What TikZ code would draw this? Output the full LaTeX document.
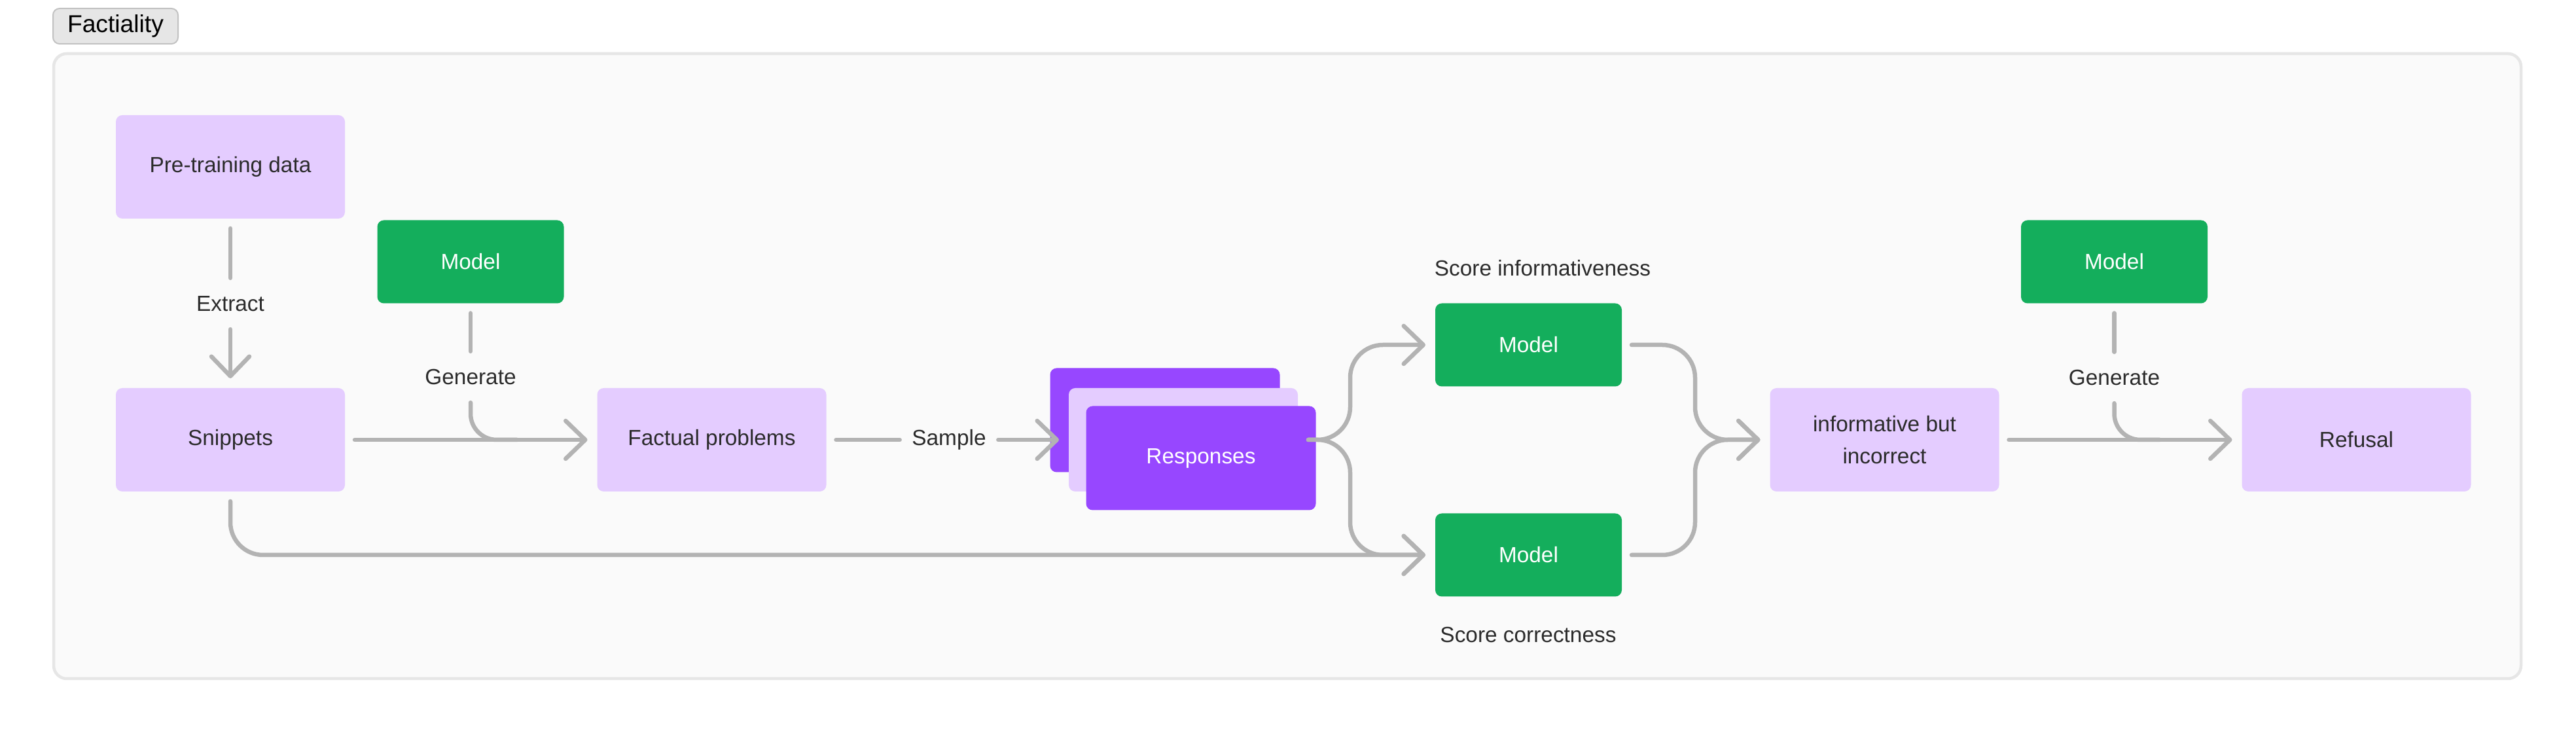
\documentclass[tikz,border=0pt]{standalone}
\usepackage{fontspec}
\setmainfont{Liberation Sans}
\usepackage{xcolor}
\usepackage{tikz}
\usetikzlibrary{positioning,calc,arrows.meta}
\definecolor{lavender}{HTML}{E4CCFF}
\definecolor{modelgreen}{HTML}{14AE5C}
\definecolor{cardpurple}{HTML}{9747FF}
\definecolor{linegray}{HTML}{B3B3B3}
\definecolor{panelbg}{HTML}{FAFAFA}
\definecolor{panelline}{HTML}{E6E6E6}
\definecolor{tabfill}{HTML}{E6E6E6}
\definecolor{tabline}{HTML}{C2C2C2}
\definecolor{ink}{HTML}{2B2B2B}
\newcommand{\diagfont}{\fontsize{9.5}{13.7}\selectfont}
\tikzset{
    box/.style={rectangle, rounded corners=0.1cm, minimum width=3.5cm, minimum height=1.58cm, fill=lavender, text=ink, outer sep=0.15cm, font=\diagfont, align=center},
    modelbox/.style={box, fill=modelgreen, text=white, minimum width=2.85cm, minimum height=1.27cm},
    card/.style={box, fill=cardpurple, text=white, minimum width=3.51cm, minimum height=1.59cm},
    lbl/.style={inner xsep=0.18cm, inner ysep=0, minimum height=0.77cm, text=ink, font=\diagfont},
    line/.style={draw=linegray, line width=0.065cm, line cap=round, line join=round},
    flow/.style={line, -{Straight Barb[length=0.3cm, width=0.58cm, round]}},
    tab/.style={rectangle, rounded corners=0.1cm, fill=tabfill, draw=tabline, line width=0.02cm, minimum width=1.91cm, minimum height=0.54cm, inner sep=0, font=\fontsize{10.6}{12}\selectfont, text=black}
}
\begin{document}
\begin{tikzpicture}
    \useasboundingbox (0,0) rectangle (39.36,11.2);
    \draw[fill=panelbg, draw=panelline, line width=0.045cm, rounded corners=0.2cm] (0.82,0.83) rectangle (38.52,10.38);
    \node[tab] (title) at (1.765,10.80) {Factiality};

    \node[box] (pre) at (3.52,8.65) {Pre-training data};
    \node[box] (snip) at (3.52,4.48) {Snippets};
    \node[lbl] (extract) at (3.52,6.56) {Extract};
    \node[modelbox] (model1) at (7.19,7.20) {Model};
    \node[lbl] (gen1) at (7.19,5.44) {Generate};
    \node[box] (fact) at (10.875,4.48) {Factual problems};
    \node[lbl] (sample) at (14.5,4.48) {Sample};
    \node[card] (back) at (17.80,4.78) {};
    \node[box] (mid) at (18.08,4.48) {};
    \node[card] (front) at (18.35,4.20) {Responses};
    \node[lbl] (scoreinf) at (23.57,7.10) {Score informativeness};
    \node[modelbox] (mtop) at (23.355,5.93) {Model};
    \node[modelbox] (mbot) at (23.355,2.72) {Model};
    \node[lbl] (scorecor) at (23.35,1.50) {Score correctness};
    \node[box] (inf) at (28.795,4.48) {informative but\\incorrect};
    \node[modelbox] (model3) at (32.305,7.20) {Model};
    \node[lbl] (gen2) at (32.305,5.43) {Generate};
    \node[box] (refusal) at (36.005,4.48) {Refusal};

    \coordinate (j1) at (7.9,4.48);
    \coordinate (fk0) at (19.99,4.48);
    \coordinate (fork) at (20.63,4.48);
    \coordinate (mrg) at (25.90,4.48);
    \coordinate (j2) at (33.0,4.48);

    \draw[line] (pre) -- (extract);
    \draw[flow] (extract) -- (snip);
    \draw[line] (model1) -- (gen1);
    \draw[line, rounded corners=0.4cm] (gen1) |- (j1);
    \draw[flow] (snip) -- (fact);
    \draw[flow, rounded corners=0.5cm] (snip) |- (mbot);
    \draw[line] (fact) -- (sample);
    \draw[flow] (sample) -- (mid);
    \draw[flow, rounded corners=0.5cm] (fk0) -- (fork) |- (mtop);
    \draw[flow, rounded corners=0.5cm] (fk0) -- (fork) |- (mbot);
    \draw[flow, rounded corners=0.5cm] (mtop) -| (mrg) -- (inf);
    \draw[flow, rounded corners=0.5cm] (mbot) -| (mrg) -- (inf);
    \draw[line] (model3) -- (gen2);
    \draw[line, rounded corners=0.4cm] (gen2) |- (j2);
    \draw[flow] (inf) -- (refusal);
\end{tikzpicture}
\end{document}
